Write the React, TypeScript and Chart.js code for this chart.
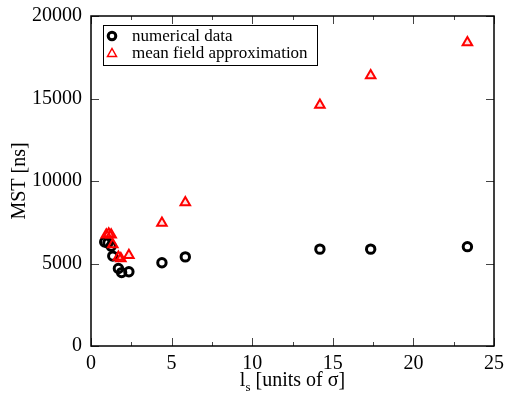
import React, { useEffect, useRef } from "react";
import { Chart, registerables } from "chart.js";

Chart.register(...registerables);

const FONT = "'Liberation Serif', 'Times New Roman', serif";

// Mean shear time vs. slip length
const numericalX = [0.85, 1.05, 1.25, 1.35, 1.7, 1.9, 2.35, 4.4, 5.85, 14.2, 17.35, 23.35];
const numericalY = [6300, 6250, 6050, 5450, 4700, 4450, 4500, 5050, 5400, 5870, 5870, 6020];
const meanFieldX = [0.95, 1.1, 1.25, 1.35, 1.7, 1.85, 2.35, 4.4, 5.85, 14.2, 17.35, 23.35];
const meanFieldY = [6750, 6800, 6750, 6150, 5400, 5300, 5500, 7450, 8700, 14600, 16400, 18400];

const xMajorTicks = [0, 5, 10, 15, 20, 25];
const xMinorTicks = [2.5, 7.5, 12.5, 17.5, 22.5];
const yMajorTicks = [0, 5000, 10000, 15000, 20000];

const legendLabels = ["numerical data", "mean field approximation"];
const yTitle = "MST [ns]";
const xTitleMain = "l";
const xTitleSub = "s";
const xTitleRest = " [units of σ]";

const toPoints = (xs: number[], ys: number[]) => xs.map((x, i) => ({ x, y: ys[i] }));

// Frame around the plot area with inward ticks on all four sides
const framePlugin = {
  id: "frameTicks",
  afterDatasetsDraw(chart: any) {
    const { ctx, chartArea: a, scales } = chart;
    const xs = scales.x;
    const ys = scales.y;
    ctx.save();
    ctx.strokeStyle = "#444";
    ctx.lineWidth = 1;
    const vtick = (v: number, len: number) => {
      const px = Math.round(xs.getPixelForValue(v)) + 0.5;
      ctx.beginPath();
      ctx.moveTo(px, a.bottom);
      ctx.lineTo(px, a.bottom - len);
      ctx.moveTo(px, a.top);
      ctx.lineTo(px, a.top + len);
      ctx.stroke();
    };
    xMajorTicks.forEach((v) => vtick(v, 8));
    xMinorTicks.forEach((v) => vtick(v, 4));
    yMajorTicks.forEach((v) => {
      const py = Math.round(ys.getPixelForValue(v)) + 0.5;
      ctx.beginPath();
      ctx.moveTo(a.left, py);
      ctx.lineTo(a.left + 8, py);
      ctx.moveTo(a.right, py);
      ctx.lineTo(a.right - 8, py);
      ctx.stroke();
    });
    ctx.strokeStyle = "#000";
    ctx.lineWidth = 1.5;
    ctx.strokeRect(a.left, a.top, a.right - a.left, a.bottom - a.top);
    ctx.restore();
  },
};

// Boxed legend inside the top-left of the plot and the x-axis title with subscript
const overlayPlugin = {
  id: "overlay",
  afterDraw(chart: any) {
    const { ctx, chartArea: a } = chart;
    ctx.save();
    const bx = a.left + 12;
    const by = a.top + 9;
    const bw = 214;
    const bh = 40;
    ctx.fillStyle = "#fff";
    ctx.fillRect(bx, by, bw, bh);
    ctx.strokeStyle = "#000";
    ctx.lineWidth = 1;
    ctx.strokeRect(bx + 0.5, by + 0.5, bw, bh);

    const mx = bx + 9;
    const row1 = by + 11;
    const row2 = by + 28;
    ctx.strokeStyle = "#000";
    ctx.lineWidth = 3;
    ctx.beginPath();
    ctx.arc(mx, row1, 3.8, 0, Math.PI * 2);
    ctx.stroke();

    ctx.strokeStyle = "#ff0000";
    ctx.lineWidth = 1.5;
    ctx.beginPath();
    ctx.moveTo(mx, row2 - 4.5);
    ctx.lineTo(mx + 4.5, row2 + 3.5);
    ctx.lineTo(mx - 4.5, row2 + 3.5);
    ctx.closePath();
    ctx.stroke();

    ctx.fillStyle = "#000";
    ctx.font = `17px ${FONT}`;
    ctx.textBaseline = "middle";
    ctx.textAlign = "left";
    ctx.fillText(legendLabels[0], bx + 29, row1 + 1);
    ctx.fillText(legendLabels[1], bx + 29, row2 + 1);

    // x-axis title: l_s [units of σ]
    const big = `20px ${FONT}`;
    const small = `13px ${FONT}`;
    ctx.font = big;
    const w1 = ctx.measureText(xTitleMain).width;
    const w3 = ctx.measureText(xTitleRest).width;
    ctx.font = small;
    const w2 = ctx.measureText(xTitleSub).width;
    const total = w1 + w2 + w3;
    const cx = (a.left + a.right) / 2;
    let x = cx - total / 2;
    const base = 386;
    ctx.textBaseline = "alphabetic";
    ctx.font = big;
    ctx.fillText(xTitleMain, x, base);
    x += w1;
    ctx.font = small;
    ctx.fillText(xTitleSub, x, base + 5);
    x += w2;
    ctx.font = big;
    ctx.fillText(xTitleRest, x, base);
    ctx.restore();
  },
};

export default function App() {
  const canvasRef = useRef<HTMLCanvasElement | null>(null);

  useEffect(() => {
    if (!canvasRef.current) return;
    const chart = new Chart(canvasRef.current, {
      type: "scatter",
      data: {
        datasets: [
          {
            label: legendLabels[0],
            data: toPoints(numericalX, numericalY),
            pointStyle: "circle",
            pointRadius: 4.2,
            pointBorderWidth: 3,
            borderColor: "#000",
            backgroundColor: "rgba(0,0,0,0)",
            pointHoverRadius: 4.2,
            order: 2,
          },
          {
            label: legendLabels[1],
            data: toPoints(meanFieldX, meanFieldY),
            pointStyle: "triangle",
            pointRadius: 5.5,
            pointBorderWidth: 2,
            borderColor: "#ff0000",
            backgroundColor: "rgba(255,0,0,0.12)",
            pointHoverRadius: 5.5,
            order: 1,
          },
        ],
      },
      options: {
        animation: false,
        responsive: true,
        maintainAspectRatio: false,
        devicePixelRatio: 1,
        layout: { padding: { left: 0, right: 14, top: 16, bottom: 0 } },
        plugins: {
          legend: { display: false },
          tooltip: { enabled: false },
        },
        scales: {
          x: {
            type: "linear",
            min: 0,
            max: 25,
            grid: { display: false, drawTicks: false },
            border: { display: false },
            ticks: {
              stepSize: 5,
              color: "#000",
              padding: 6,
              font: { family: FONT, size: 20 },
              callback: (v: any) => String(v),
            },
            afterFit: (s: any) => {
              s.height = 48;
              s.paddingLeft = 0;
              s.paddingRight = 0;
            },
          },
          y: {
            type: "linear",
            min: 0,
            max: 20000,
            grid: { display: false, drawTicks: false },
            border: { display: false },
            ticks: {
              stepSize: 5000,
              color: "#000",
              padding: 9,
              font: { family: FONT, size: 20 },
              callback: (v: any) => String(v),
            },
            title: {
              display: true,
              text: yTitle,
              color: "#000",
              padding: { top: 8, bottom: 0 },
              font: { family: FONT, size: 20 },
            },
            afterFit: (s: any) => {
              s.width = 91;
              s.paddingTop = 0;
              s.paddingBottom = 0;
            },
          },
        },
      },
      plugins: [framePlugin, overlayPlugin],
    });
    return () => chart.destroy();
  }, []);

  return (
    <div style={{ position: "absolute", left: 0, top: 0, width: 508, height: 394, background: "#fff" }}>
      <canvas ref={canvasRef} />
    </div>
  );
}
